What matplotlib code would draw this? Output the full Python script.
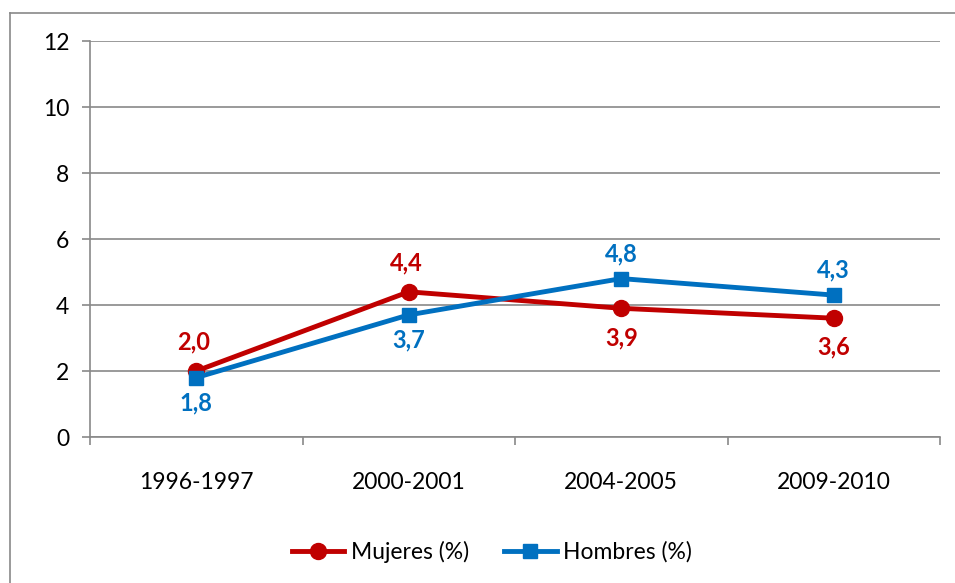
import matplotlib
matplotlib.use("Agg")
import matplotlib.pyplot as plt
from matplotlib.lines import Line2D

# data
periods = ["1996-1997", "2000-2001", "2004-2005", "2009-2010"]
mujeres = [2.0, 4.4, 3.9, 3.6]
hombres = [1.8, 3.7, 4.8, 4.3]
# label placement: +1 above the point, -1 below
mujeres_side = [1, 1, -1, -1]
hombres_side = [-1, -1, 1, 1]

red = "#C00000"
blue = "#0070C0"
grey = "#898989"

plt.rcParams["font.family"] = ["Lato", "DejaVu Sans"]

fig = plt.figure(figsize=(9.55, 5.83), dpi=100)
W, H = 955, 583
ax = fig.add_axes([90 / W, (H - 437) / H, 850 / W, 396 / H])

x = list(range(len(periods)))
ax.plot(x, mujeres, color=red, lw=3.5, marker="o", ms=11.5, label="Mujeres (%)", zorder=3)
ax.plot(x, hombres, color=blue, lw=3.5, marker="s", ms=10, label="Hombres (%)", zorder=4)

for xi, v, s in zip(x, mujeres, mujeres_side):
    ax.annotate(f"{v:.1f}".replace(".", ","), (xi, v), xytext=(-2 if s > 0 else 0, 21 * s),
                textcoords="offset points", ha="center", va="center",
                color=red, fontsize=17, fontweight="bold")
for xi, v, s in zip(x, hombres, hombres_side):
    ax.annotate(f"{v:.1f}".replace(".", ","), (xi, v), xytext=(0, 18 * s),
                textcoords="offset points", ha="center", va="center",
                color=blue, fontsize=17, fontweight="bold")

ax.set_xlim(-0.5, len(periods) - 0.5)
ax.set_ylim(0, 12)
ax.set_yticks(range(0, 13, 2))
ax.set_xticks([i - 0.5 for i in range(len(periods) + 1)])
ax.set_xticklabels([])
ax.set_xticks(x, minor=True)
ax.set_xticklabels(periods, minor=True)
ax.tick_params(axis="x", which="major", length=6, color=grey, width=1.2)
ax.tick_params(axis="x", which="minor", length=0, pad=25, labelsize=16.5)
ax.tick_params(axis="y", length=6, color=grey, width=1.2, pad=9, labelsize=16.5)

ax.grid(axis="y", color=grey, lw=1.2)
ax.set_axisbelow(True)
for side in ["top", "right"]:
    ax.spines[side].set_visible(False)
for side in ["left", "bottom"]:
    ax.spines[side].set_color(grey)
    ax.spines[side].set_linewidth(1.2)

fig.legend(loc="center", bbox_to_anchor=(492 / W, 1 - 552 / H), ncol=2,
           frameon=False, fontsize=16.5, handlelength=2.3, handletextpad=0.3,
           columnspacing=1.5)

# chart area frame (partly outside the image)
fig.add_artist(Line2D([10 / W, 1], [1 - 13 / H, 1 - 13 / H], color=grey, lw=1.2,
                      transform=fig.transFigure))
fig.add_artist(Line2D([10 / W, 10 / W], [0, 1 - 13 / H], color=grey, lw=1.2,
                      transform=fig.transFigure))

fig.savefig("out.png", dpi=100)
